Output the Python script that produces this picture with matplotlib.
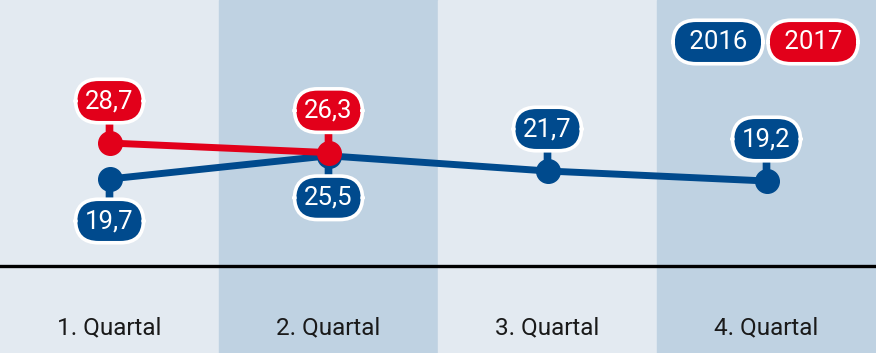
import numpy as np
import matplotlib.pyplot as plt

# data
quarters = ["1. Quartal", "2. Quartal", "3. Quartal", "4. Quartal"]
values_2016 = [19.7, 25.5, 21.7, 19.2]
values_2017 = [28.7, 26.3]
label_pos_2016 = ["below", "below", "above", "above"]
label_pos_2017 = ["above", "above"]

# style
blue = "#004a8d"
red = "#e2001a"
bg_light = "#e3eaf1"
bg_dark = "#bfd2e2"
plt.rcParams['font.family'] = ["Roboto", "DejaVu Sans"]

pill = dict(boxstyle="round,pad=0.38,rounding_size=0.9", ec="white", lw=2.6)

fig = plt.figure(figsize=(8.76, 3.53), dpi=100)
ax = fig.add_axes([0, 0, 1, 1])
ax.set_xlim(-0.5, 3.5)
ax.set_ylim(-23.8, 64.45)
ax.axis("off")

# alternating column backgrounds
for i in range(len(quarters)):
    ax.axvspan(i - 0.5, i + 0.5, color=bg_light if i % 2 == 0 else bg_dark, zorder=0)

# baseline
ax.axhline(-2.05, color="black", lw=2.4, zorder=1)

# category labels
for i, q in enumerate(quarters):
    ax.text(i, 0.071, q, transform=ax.get_xaxis_transform(), ha="center", va="center",
            fontsize=17.5, color="#1a1a1a")

def draw_series(vals, positions, color, z):
    x = np.arange(len(vals))
    ax.plot(x, vals, color=color, lw=5, zorder=z, solid_capstyle="round")
    ax.plot(x, vals, "o", color=color, ms=17, zorder=z + 0.5)
    for xi, v, p in zip(x, vals, positions):
        dy = 42 if p == "above" else -42
        ax.annotate(f"{v:.1f}".replace(".", ","), xy=(xi, v), xytext=(0, dy),
                    textcoords="offset pixels", ha="center", va="center",
                    fontsize=18.5, color="white", zorder=z + 1,
                    bbox=dict(pill, fc=color),
                    arrowprops=dict(arrowstyle="-", color=color, lw=5.5,
                                    shrinkA=0, shrinkB=0))

draw_series(values_2016, label_pos_2016, blue, 3)
draw_series(values_2017, label_pos_2017, red, 5)

# legend pills
for xp, txt, c in [(718, "2016", blue), (813, "2017", red)]:
    fig.text(xp / 876, 1 - 42 / 353, " " + txt + " ", ha="center", va="center", fontsize=18.5,
             color="white", bbox=dict(pill, fc=c))

fig.savefig("out.png", dpi=100)
